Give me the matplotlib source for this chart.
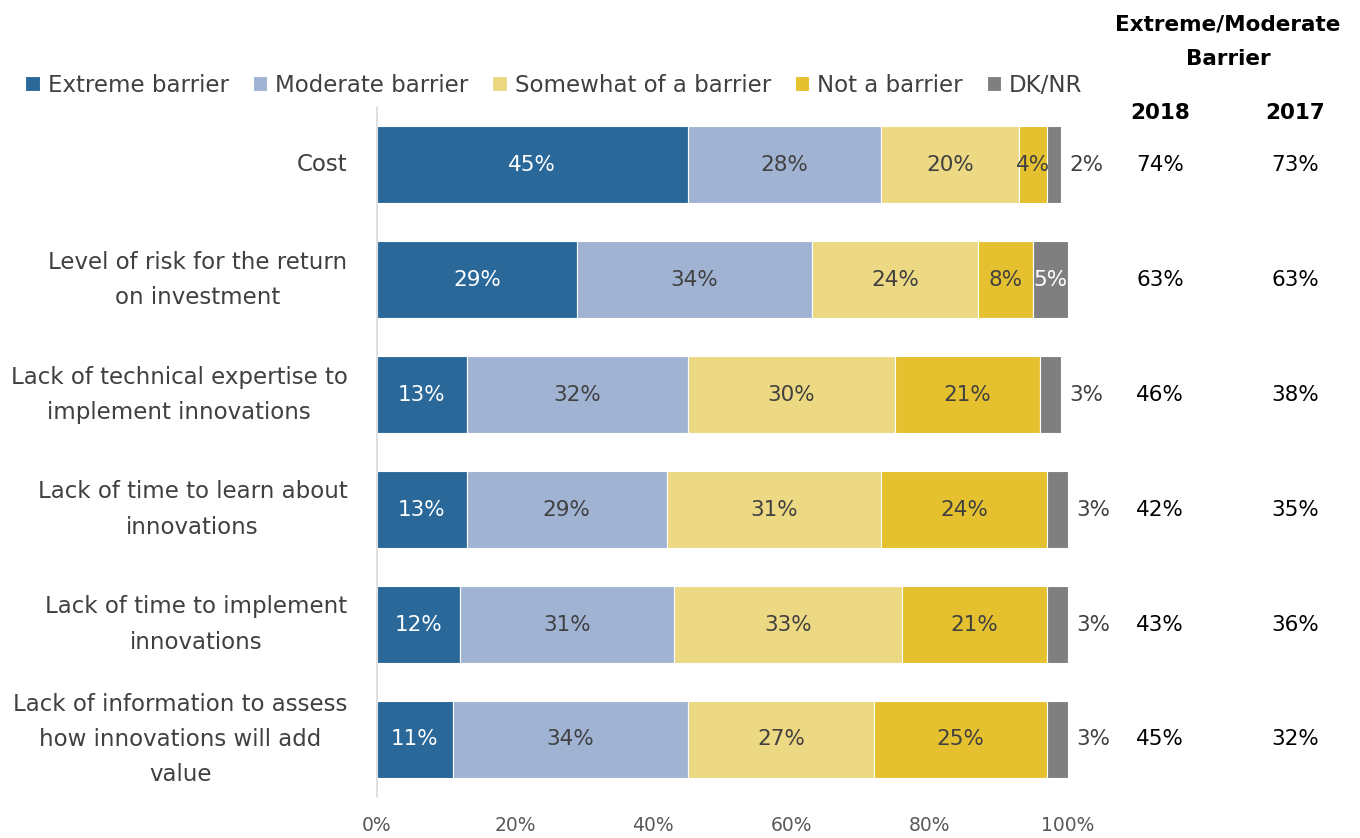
import matplotlib
matplotlib.use("Agg")
import matplotlib.pyplot as plt
import matplotlib.transforms as mtransforms
import numpy as np

plt.rcParams['font.family'] = ['DejaVu Sans']

categories = [
    "Cost",
    "Level of risk for the return\non investment",
    "Lack of technical expertise to\nimplement innovations",
    "Lack of time to learn about\ninnovations",
    "Lack of time to implement\ninnovations",
    "Lack of information to assess\nhow innovations will add\nvalue",
]
series_names = ["Extreme barrier", "Moderate barrier", "Somewhat of a barrier",
                "Not a barrier", "DK/NR"]
extreme = [45, 29, 13, 13, 12, 11]
moderate = [28, 34, 32, 29, 31, 34]
somewhat = [20, 24, 30, 31, 33, 27]
not_barrier = [4, 8, 21, 24, 21, 25]
dk_nr = [2, 5, 3, 3, 3, 3]
combined_2018 = ["74%", "63%", "46%", "42%", "43%", "45%"]
combined_2017 = ["73%", "63%", "38%", "35%", "36%", "32%"]
x_ticks = [0, 20, 40, 60, 80, 100]

colors = ["#2A6899", "#A1B3D3", "#EDD883", "#E5C12F", "#7F7F7F"]
label_colors = ["white", "#404040", "#404040", "#404040", "white"]
text_gray = "#404040"
FS_CAT = 16.5     # category labels and legend
FS_VAL = 15.5     # value labels
FS_HEAD = 15.5    # right-hand header

fig = plt.figure(figsize=(13.6, 8.38), dpi=100)
ax = fig.add_axes([0.277, 0.049, 0.508, 0.823])

y = np.arange(len(categories))
left = np.zeros(len(categories))
all_series = [extreme, moderate, somewhat, not_barrier, dk_nr]
for idx, (name, vals, col) in enumerate(zip(series_names, all_series, colors)):
    vals = np.array(vals, dtype=float)
    ax.barh(y, vals, left=left, height=0.67, color=col, edgecolor="white",
            linewidth=0.8, label=name)
    for i, v in enumerate(vals):
        cx = left[i] + v / 2
        if idx == 4:
            # DK/NR: inside only where the segment is wide enough
            if v >= 5:
                ax.text(cx, y[i], f"{int(v)}%", ha="center", va="center",
                        color="white", fontsize=FS_VAL)
            else:
                ax.text(left[i] + v + 1.2, y[i], f"{int(v)}%", ha="left",
                        va="center", color=text_gray, fontsize=FS_VAL)
        else:
            ax.text(cx, y[i], f"{int(v)}%", ha="center", va="center",
                    color=label_colors[idx], fontsize=FS_VAL)
    left += vals

ax.set_xlim(0, 100)
ax.set_ylim(len(categories) - 0.5, -0.5)
ax.set_xticks(x_ticks)
ax.set_xticklabels([f"{t}%" for t in x_ticks], fontsize=13.5, color="#595959")
ax.set_yticks(y)
ax.set_yticklabels(categories, fontsize=FS_CAT, color=text_gray,
                   multialignment="center", linespacing=1.68)
for lbl in ax.get_yticklabels():
    lbl.set_verticalalignment("center")
ax.tick_params(axis="both", length=0)
ax.tick_params(axis="y", pad=21)
ax.tick_params(axis="x", pad=14)
for s in ["top", "right", "bottom"]:
    ax.spines[s].set_visible(False)
ax.spines["left"].set_color("#D9D9D9")
ax.spines["left"].set_linewidth(1.2)

# combined extreme/moderate columns
trans = mtransforms.blended_transform_factory(fig.transFigure, ax.transData)
for i in range(len(categories)):
    ax.text(1160 / 1360, y[i], combined_2018[i], transform=trans, ha="center",
            va="center", fontsize=FS_VAL, color="black")
    ax.text(1295 / 1360, y[i], combined_2017[i], transform=trans, ha="center",
            va="center", fontsize=FS_VAL, color="black")

fig.text(1228 / 1360, 1 - 25 / 838, "Extreme/Moderate", ha="center", va="center",
         fontsize=FS_HEAD, fontweight="bold", color="black")
fig.text(1228 / 1360, 1 - 59 / 838, "Barrier", ha="center", va="center",
         fontsize=FS_HEAD, fontweight="bold", color="black")
fig.text(1160 / 1360, 1 - 113 / 838, "2018", ha="center", va="center",
         fontsize=FS_HEAD, fontweight="bold", color="black")
fig.text(1295 / 1360, 1 - 113 / 838, "2017", ha="center", va="center",
         fontsize=FS_HEAD, fontweight="bold", color="black")

fig.legend(loc="center left", bbox_to_anchor=(0.012, 1 - 85 / 838), ncol=5,
           frameon=False, fontsize=FS_CAT, handlelength=0.62, handleheight=0.62,
           handletextpad=0.35, columnspacing=1.05, borderaxespad=0,
           labelcolor=text_gray)

fig.savefig("out.png", dpi=100)
